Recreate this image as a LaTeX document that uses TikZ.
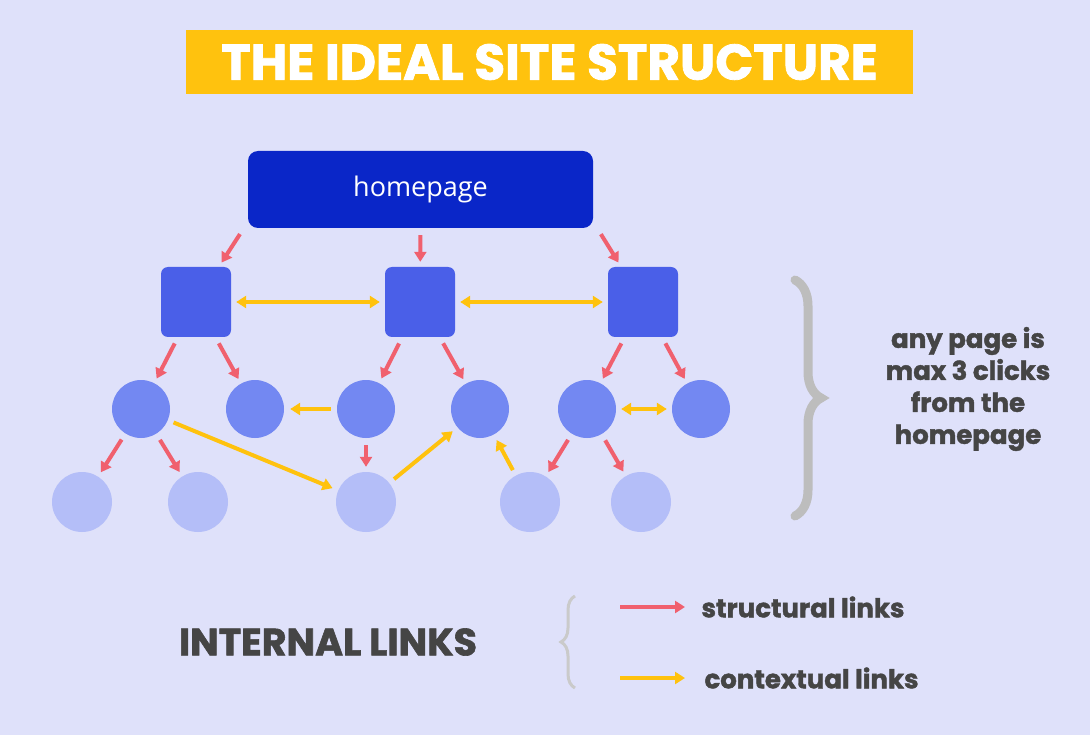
\documentclass[tikz,border=0pt]{standalone}
\usepackage{fontspec}
\setmainfont{Poppins}[BoldFeatures={FakeBold=1.6}]
\newfontfamily\osans{Open Sans}
\usetikzlibrary{arrows.meta,calc,decorations.pathreplacing}
\definecolor{bg}{HTML}{DFE1FA}
\definecolor{ylw}{HTML}{FFC20E}
\definecolor{hblue}{HTML}{0A26C8}
\definecolor{sq}{HTML}{4A5FE8}
\definecolor{cmid}{HTML}{7388F2}
\definecolor{cleaf}{HTML}{B4BEF8}
\definecolor{rd}{HTML}{F0606E}
\definecolor{txt}{HTML}{454545}
\definecolor{brc}{HTML}{BDBDBD}
\tikzset{
 sqnode/.style={fill=sq,rounded corners=7pt,minimum size=70pt,inner sep=0},
 midnode/.style={fill=cmid,circle,minimum size=58pt,inner sep=0},
 leafnode/.style={fill=cleaf,circle,minimum size=60pt,inner sep=0},
 sarrow/.style={draw=rd,line width=4pt,-{Triangle[length=10pt,width=12pt]},shorten <=7pt,shorten >=5pt},
 carrow/.style={draw=ylw,line width=4pt,-{Triangle[length=10pt,width=12pt]},shorten <=6pt,shorten >=6pt},
 cboth/.style={draw=ylw,line width=4pt,{Triangle[length=10pt,width=12pt]}-{Triangle[length=10pt,width=12pt]},shorten <=5pt,shorten >=5pt},
 lbl/.style={text=txt,font=\bfseries\fontsize{26}{30}\selectfont},
}
\begin{document}
\begin{tikzpicture}[x=1pt,y=-1pt]
\fill[bg] (0,0) rectangle (1090,735);
\useasboundingbox (0,0) rectangle (1090,735);
\node[fill=ylw,minimum width=727pt,minimum height=64pt,inner sep=0,text=white,font=\bfseries\fontsize{50}{54}\selectfont] (title) at (549.5,62) {THE IDEAL SITE STRUCTURE};
\node[fill=hblue,rounded corners=10pt,minimum width=345pt,minimum height=77pt,text=white,font=\osans\fontsize{27}{30}\selectfont] (home) at (420.5,189.5) {homepage};
\node[sqnode] (s1) at (196,302) {};
\node[sqnode] (s2) at (420,302) {};
\node[sqnode] (s3) at (643,302) {};
\node[midnode] (c1) at (141,409) {};
\node[midnode] (c2) at (255,409) {};
\node[midnode] (c3) at (366,409) {};
\node[midnode] (c4) at (480,409) {};
\node[midnode] (c5) at (587,409) {};
\node[midnode] (c6) at (701,409) {};
\node[leafnode] (l1) at (82,502) {};
\node[leafnode] (l2) at (198,502) {};
\node[leafnode] (l3) at (366,502) {};
\node[leafnode] (l4) at (530,502) {};
\node[leafnode] (l5) at (641,502) {};
% structural
\draw[sarrow] ($(home.south west)+(-4,0)$) -- (s1);
\draw[sarrow] (home.south) -- (s2);
\draw[sarrow] ($(home.south east)+(4,0)$) -- (s3);
\draw[sarrow] (s1) -- (c1);
\draw[sarrow] (s1) -- (c2);
\draw[sarrow] (s2) -- (c3);
\draw[sarrow] (s2) -- (c4);
\draw[sarrow] (s3) -- (c5);
\draw[sarrow] (s3) -- (c6);
\draw[sarrow] (c1) -- (l1);
\draw[sarrow] (c1) -- (l2);
\draw[sarrow] (c3) -- (l3);
\draw[sarrow] (c5) -- (l4);
\draw[sarrow] (c5) -- (l5);
% contextual
\draw[cboth] (s1) -- (s2);
\draw[cboth] (s2) -- (s3);
\draw[carrow] (c3) -- (c2);
\draw[cboth] (c5) -- (c6);
\draw[carrow] (c1) -- (l3);
\draw[carrow] (l3) -- (c4);
\draw[carrow] (l4) -- (c4);
% right brace
\coordinate (bt) at (795,280);
\coordinate (bb) at (795,516);
\draw[brc,line width=9pt,line cap=round,decorate,decoration={brace,amplitude=26pt,aspect=0.5}] (bt) -- (bb);
\node[lbl,align=center,font=\bfseries\fontsize{26}{32}\selectfont] (note) at (968,389) {any page is\\max 3 clicks\\from the\\homepage};
% legend
\node[text=txt,font=\bfseries\fontsize{38}{42}\selectfont] (il) at (328,642) {INTERNAL LINKS};
\coordinate (lt) at (575,596);
\coordinate (lb) at (575,688);
\draw[brc!80,line width=3pt,decorate,decoration={brace,amplitude=14pt,mirror}] (lt) -- (lb);
\coordinate (r1) at (620,607); \coordinate (r2) at (685,607);
\coordinate (y1) at (620,678); \coordinate (y2) at (685,678);
\draw[sarrow,shorten <=0pt,shorten >=0pt] (r1) -- (r2);
\draw[carrow,shorten <=0pt,shorten >=0pt] (y1) -- (y2);
\node[lbl,anchor=west] (t1) at (698,607) {structural links};
\node[lbl,anchor=west] (t2) at (701,678) {contextual links};
\end{tikzpicture}
\end{document}
